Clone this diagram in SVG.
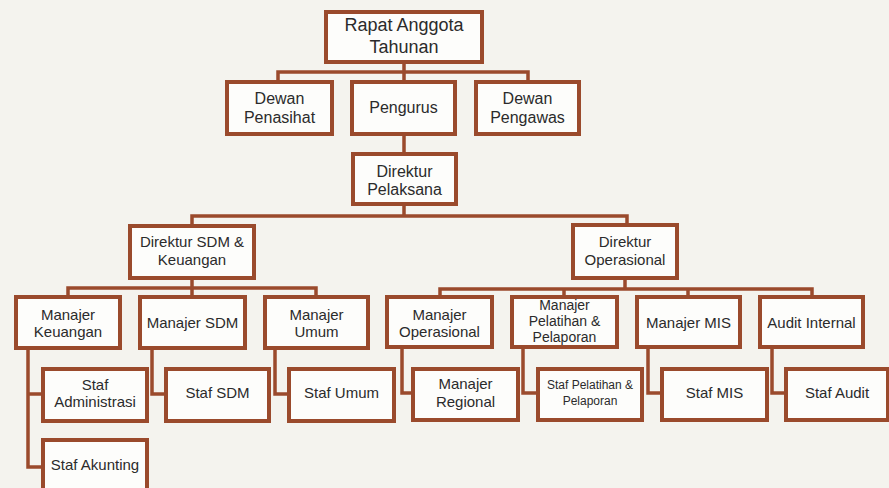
<svg xmlns="http://www.w3.org/2000/svg" width="889" height="488" viewBox="0 0 889 488">
<style>
.b{fill:#fdfdfb;stroke:#9a4a2c;stroke-width:4}
.c{fill:none;stroke:#9a4a2c;stroke-width:3.5;stroke-linejoin:miter}
text{font-family:"Liberation Sans",Arial,sans-serif;fill:#2b2b2b;text-anchor:middle;font-size:15px}
.l{font-size:18px}
.m{font-size:16px}
.s{font-size:14px}
.xs{font-size:12px}
</style>
<rect width="889" height="488" fill="#f4f3ee"/>
<g id="connectors" class="c">
<path d="M404,62V72M278,82V72H528V82M404,72V82M404,134V154"/>
<path d="M404,204V216M192,226V216H627V226"/>
<path d="M192,278V288M68,297V288H316V297M192,288V297"/>
<path d="M625,278V289M440,297V289H812V297M564,289V297M688,289V297"/>
<path d="M28,348V467H43M28,394H43"/>
<path d="M152,348V394H166"/>
<path d="M275,348V394H289"/>
<path d="M402,347V393H413"/>
<path d="M523,347V393H538"/>
<path d="M648,347V393H662"/>
<path d="M772,347V393H786"/>
</g>
<g id="rat"><rect class="b" x="326" y="12" width="156" height="50"/><text class="l" x="404" y="31">Rapat Anggota</text><text class="l" x="404" y="53">Tahunan</text></g>
<g id="dewan-penasihat"><rect class="b" x="227" y="82" width="105" height="52"/><text class="m" x="279.5" y="104">Dewan</text><text class="m" x="279.5" y="123">Penasihat</text></g>
<g id="pengurus"><rect class="b" x="352" y="82" width="103" height="52"/><text class="m" x="403.5" y="113">Pengurus</text></g>
<g id="dewan-pengawas"><rect class="b" x="476" y="82" width="103" height="52"/><text class="m" x="527.5" y="104">Dewan</text><text class="m" x="527.5" y="123">Pengawas</text></g>
<g id="direktur-pelaksana"><rect class="b" x="353" y="154" width="103" height="50"/><text class="m" x="404.5" y="177">Direktur</text><text class="m" x="404.5" y="195">Pelaksana</text></g>
<g id="direktur-sdm"><rect class="b" x="130" y="226" width="124" height="52"/><text x="192" y="247">Direktur SDM &amp;</text><text x="192" y="265">Keuangan</text></g>
<g id="direktur-operasional"><rect class="b" x="573" y="225" width="104" height="53"/><text x="625" y="247">Direktur</text><text x="625" y="265">Operasional</text></g>
<g id="manajer-keuangan"><rect class="b" x="16" y="297" width="104" height="51"/><text x="68" y="320">Manajer</text><text x="68" y="337">Keuangan</text></g>
<g id="manajer-sdm"><rect class="b" x="140" y="297" width="105" height="51"/><text x="192.5" y="328">Manajer SDM</text></g>
<g id="manajer-umum"><rect class="b" x="265" y="297" width="103" height="51"/><text x="316.5" y="320">Manajer</text><text x="316.5" y="337">Umum</text></g>
<g id="manajer-operasional"><rect class="b" x="387" y="297" width="105" height="50"/><text x="439.5" y="320">Manajer</text><text x="439.5" y="337">Operasional</text></g>
<g id="manajer-pelatihan"><rect class="b" x="512" y="297" width="105" height="50"/><text class="s" x="564.5" y="310">Manajer</text><text class="s" x="564.5" y="326">Pelatihan &amp;</text><text class="s" x="564.5" y="342">Pelaporan</text></g>
<g id="manajer-mis"><rect class="b" x="637" y="297" width="103" height="50"/><text x="688.5" y="328">Manajer MIS</text></g>
<g id="audit-internal"><rect class="b" x="760" y="297" width="103" height="50"/><text x="811.5" y="328">Audit Internal</text></g>
<g id="staf-administrasi"><rect class="b" x="43" y="369" width="104" height="52"/><text x="95" y="390">Staf</text><text x="95" y="407">Administrasi</text></g>
<g id="staf-akunting"><rect class="b" x="43" y="440" width="104" height="52"/><text x="95" y="470">Staf Akunting</text></g>
<g id="staf-sdm"><rect class="b" x="166" y="369" width="103" height="52"/><text x="217.5" y="398">Staf SDM</text></g>
<g id="staf-umum"><rect class="b" x="289" y="369" width="105" height="52"/><text x="341.5" y="398">Staf Umum</text></g>
<g id="manajer-regional"><rect class="b" x="413" y="369" width="105" height="51"/><text x="465.5" y="389">Manajer</text><text x="465.5" y="407">Regional</text></g>
<g id="staf-pelatihan"><rect class="b" x="538" y="369" width="104" height="51"/><text class="xs" x="590" y="389">Staf Pelatihan  &amp;</text><text class="xs" x="590" y="405">Pelaporan</text></g>
<g id="staf-mis"><rect class="b" x="662" y="369" width="105" height="51"/><text x="714.5" y="398">Staf MIS</text></g>
<g id="staf-audit"><rect class="b" x="786" y="369" width="102" height="51"/><text x="837" y="398">Staf Audit</text></g>
</svg>
